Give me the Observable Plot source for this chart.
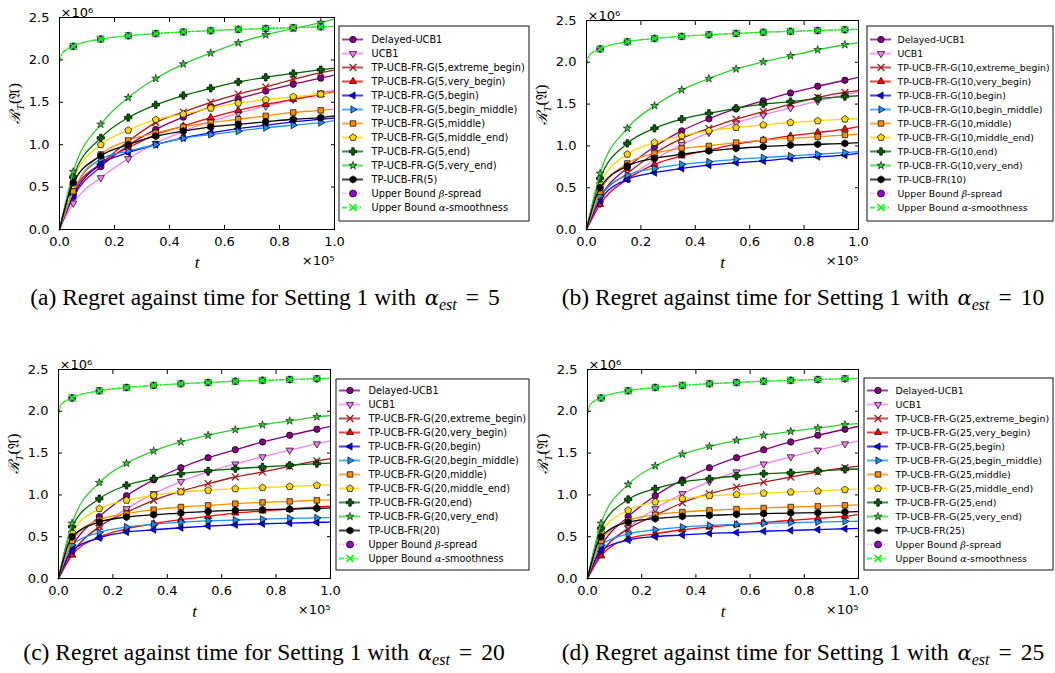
<!DOCTYPE html>
<html><head><meta charset="utf-8">
<script src="https://cdn.jsdelivr.net/npm/d3@7"></script>
<script src="https://cdn.jsdelivr.net/npm/@observablehq/plot@0.6"></script>
<style>
body{margin:0;background:#fff;}
#root{position:relative;width:1055px;height:673px;overflow:hidden;background:#fff;}
.cap{position:absolute;font-family:"Liberation Serif","Times New Roman",serif;font-size:23.5px;white-space:nowrap;transform:translate(-50%,-50%);color:#000;}
.cap .a{font-style:italic;font-family:"DejaVu Serif",serif;font-size:21px;margin-left:3px;}
.cap .sub{font-size:16px;position:relative;top:5px;font-style:italic;margin-right:9px;}
.cap .eq{margin-right:9px;}
</style></head><body><div id="root"></div>
<script>
// ---------------- data (t in units of 1e5, regret in units of 1e6) ----------------
const ALPHAS = [5, 10, 20, 25];
const LETTERS = ["a", "b", "c", "d"];
const T = [0, 0.05, 0.15, 0.25, 0.35, 0.45, 0.55, 0.65, 0.75, 0.85, 0.95, 1.0];
const MARKER_T = [0.05, 0.15, 0.25, 0.35, 0.45, 0.55, 0.65, 0.75, 0.85, 0.95];
const UB_T = [0, 0.01, 0.05, 0.15, 0.25, 0.35, 0.45, 0.55, 0.65, 0.75, 0.85, 0.95, 1.0];
const UB_BETA  = [1.97, 2.08, 2.16, 2.245, 2.285, 2.31, 2.33, 2.345, 2.36, 2.37, 2.38, 2.39, 2.395];
const UB_ALPHA = [1.97, 2.08, 2.16, 2.245, 2.285, 2.31, 2.33, 2.345, 2.36, 2.37, 2.38, 2.39, 2.395];
const DELAYED_UCB1 = [0, 0.38, 0.74, 0.99, 1.18, 1.325, 1.445, 1.54, 1.633, 1.713, 1.785, 1.82];
const UCB1 = [0, 0.31, 0.61, 0.835, 1.015, 1.16, 1.275, 1.37, 1.455, 1.535, 1.61, 1.645];
const VARIANTS = ["extreme_begin", "very_begin", "begin", "begin_middle", "middle", "middle_end", "end", "very_end"];
// rows: extreme_begin, very_begin, begin, begin_middle, middle, middle_end, end, very_end, TP-UCB-FR
const G_5 = [
  [0, 0.45, 0.77, 1.04, 1.26, 1.385, 1.50, 1.595, 1.68, 1.77, 1.85, 1.88],
  [0, 0.43, 0.78, 0.965, 1.12, 1.22, 1.32, 1.405, 1.475, 1.535, 1.59, 1.625],
  [0, 0.40, 0.77, 0.905, 1.0, 1.08, 1.14, 1.19, 1.23, 1.27, 1.30, 1.315],
  [0, 0.45, 0.83, 0.925, 1.0, 1.075, 1.12, 1.16, 1.20, 1.23, 1.26, 1.285],
  [0, 0.45, 0.885, 1.05, 1.14, 1.21, 1.26, 1.30, 1.34, 1.38, 1.405, 1.42],
  [0, 0.60, 1.0, 1.17, 1.295, 1.36, 1.43, 1.49, 1.53, 1.565, 1.595, 1.61],
  [0, 0.62, 1.08, 1.32, 1.47, 1.58, 1.665, 1.74, 1.795, 1.84, 1.885, 1.90],
  [0, 0.68, 1.24, 1.555, 1.78, 1.95, 2.08, 2.20, 2.295, 2.37, 2.44, 2.48],
  [0, 0.55, 0.87, 1.0, 1.10, 1.16, 1.21, 1.24, 1.27, 1.30, 1.32, 1.34]
];
const G_10 = [
  [0, 0.38, 0.67, 0.91, 1.09, 1.21, 1.32, 1.41, 1.50, 1.58, 1.64, 1.66],
  [0, 0.30, 0.60, 0.78, 0.88, 0.95, 1.02, 1.07, 1.12, 1.16, 1.20, 1.23],
  [0, 0.35, 0.60, 0.68, 0.73, 0.77, 0.80, 0.82, 0.85, 0.87, 0.89, 0.91],
  [0, 0.40, 0.65, 0.73, 0.78, 0.81, 0.84, 0.86, 0.88, 0.90, 0.92, 0.93],
  [0, 0.45, 0.79, 0.91, 0.97, 1.0, 1.04, 1.07, 1.09, 1.11, 1.13, 1.14],
  [0, 0.55, 0.90, 1.04, 1.12, 1.18, 1.22, 1.25, 1.28, 1.30, 1.32, 1.325],
  [0, 0.61, 1.03, 1.21, 1.32, 1.39, 1.45, 1.50, 1.53, 1.565, 1.59, 1.60],
  [0, 0.67, 1.21, 1.48, 1.67, 1.805, 1.92, 2.005, 2.077, 2.15, 2.21, 2.235],
  [0, 0.50, 0.76, 0.85, 0.90, 0.94, 0.97, 0.99, 1.01, 1.02, 1.03, 1.04]
];
const G_20 = [
  [0, 0.30, 0.62, 0.79, 0.935, 1.045, 1.134, 1.214, 1.274, 1.342, 1.406, 1.434],
  [0, 0.28, 0.495, 0.595, 0.655, 0.703, 0.743, 0.783, 0.807, 0.83, 0.855, 0.865],
  [0, 0.33, 0.487, 0.555, 0.583, 0.607, 0.627, 0.643, 0.655, 0.663, 0.671, 0.675],
  [0, 0.40, 0.55, 0.615, 0.65, 0.675, 0.69, 0.70, 0.71, 0.72, 0.725, 0.73],
  [0, 0.45, 0.703, 0.775, 0.823, 0.855, 0.875, 0.895, 0.91, 0.922, 0.935, 0.94],
  [0, 0.55, 0.835, 0.935, 0.995, 1.035, 1.055, 1.074, 1.086, 1.10, 1.114, 1.12],
  [0, 0.62, 0.955, 1.114, 1.194, 1.254, 1.286, 1.314, 1.334, 1.354, 1.374, 1.38],
  [0, 0.66, 1.146, 1.378, 1.525, 1.633, 1.713, 1.78, 1.837, 1.885, 1.933, 1.95],
  [0, 0.50, 0.675, 0.735, 0.763, 0.783, 0.803, 0.815, 0.823, 0.83, 0.839, 0.845]
];
const G_25 = [
  [0, 0.30, 0.595, 0.755, 0.906, 1.014, 1.094, 1.154, 1.214, 1.274, 1.326, 1.345],
  [0, 0.27, 0.475, 0.535, 0.583, 0.615, 0.643, 0.671, 0.695, 0.719, 0.745, 0.765],
  [0, 0.33, 0.46, 0.50, 0.52, 0.54, 0.55, 0.565, 0.575, 0.585, 0.595, 0.60],
  [0, 0.40, 0.535, 0.583, 0.615, 0.635, 0.647, 0.659, 0.667, 0.675, 0.683, 0.685],
  [0, 0.45, 0.695, 0.763, 0.795, 0.815, 0.83, 0.843, 0.855, 0.863, 0.875, 0.88],
  [0, 0.55, 0.815, 0.915, 0.955, 0.99, 1.005, 1.02, 1.034, 1.046, 1.062, 1.07],
  [0, 0.60, 0.946, 1.074, 1.154, 1.194, 1.226, 1.254, 1.266, 1.286, 1.306, 1.31],
  [0, 0.66, 1.126, 1.346, 1.486, 1.58, 1.653, 1.713, 1.76, 1.80, 1.84, 1.853],
  [0, 0.50, 0.675, 0.715, 0.743, 0.755, 0.767, 0.775, 0.783, 0.787, 0.795, 0.80]
];
const G_ALL = [G_5, G_10, G_20, G_25];
const X_TICKS = [0, 0.2, 0.4, 0.6, 0.8, 1.0];
const Y_TICKS = [0, 0.5, 1.0, 1.5, 2.0, 2.5];

// ---------------- marker shapes ----------------
function poly(pts) {
  return {draw(ctx, size) {
    const r = Math.sqrt(size / Math.PI);
    pts.forEach(([x, y], i) => i ? ctx.lineTo(x * r, y * r) : ctx.moveTo(x * r, y * r));
    ctx.closePath();
  }};
}
function tri(deg) {
  const k = 1.3;
  return poly([0, 120, 240].map(a => {
    const r = (a + deg) * Math.PI / 180;
    return [k * Math.sin(r), -k * Math.cos(r)];
  }));
}
const PENTAGON = poly([0, 72, 144, 216, 288].map(a => {
  const r = a * Math.PI / 180; return [1.15 * Math.sin(r), -1.15 * Math.cos(r)];
}));
const W = 0.4, E = 1.15;
const PLUS_FILLED = poly([[-W,-E],[W,-E],[W,-W],[E,-W],[E,W],[W,W],[W,E],[-W,E],[-W,W],[-E,W],[-E,-W],[-W,-W]]);

const STYLES = [
  {color: "#800080", symbol: "circle", fill: "#800080"},
  {color: "#ee82ee", symbol: tri(180), fill: "#ee82ee"},
  {color: "#a01c1c", symbol: "times", fill: "none", edge: "#a01c1c", edgeWidth: 1.3},
  {color: "#ff0000", symbol: tri(0), fill: "#ff0000"},
  {color: "#0000ff", symbol: tri(-90), fill: "#0000ff"},
  {color: "#1e90ff", symbol: tri(90), fill: "#1e90ff"},
  {color: "#ff8c00", symbol: "square", fill: "#ff8c00", r: 3.1},
  {color: "#ffd700", symbol: PENTAGON, fill: "#ffd700"},
  {color: "#006400", symbol: PLUS_FILLED, fill: "#006400"},
  {color: "#32cd32", symbol: "star", fill: "#32cd32", r: 2.5, edgeWidth: 0.6},
  {color: "#000000", symbol: "hexagon", fill: "#000000", r: 3.1},
  {color: "#ee82ee", symbol: "circle", fill: "#9400d3", dash: "1.2,2.2", r: 3.5},
  {color: "#00ff00", symbol: "times", fill: "none", edge: "#00ff00", edgeWidth: 1.5, dash: "5,2,1.5,2", r: 3.3}
];

// layout of each panel: plot frame + legend box [left, top, width, height, textX, fontSize]
const PANELS = [
  {svgLeft: 0,   svgTop: 0,   w: 340, h: 275, ml: 59, mr: 6, mt: 17, mb: 46, leg: [338, 25, 191, 196, 33, 9.8], cap: [265, 297]},
  {svgLeft: 527, svgTop: 0,   w: 336, h: 275, ml: 59, mr: 5, mt: 20, mb: 46, leg: [866, 25, 187, 196, 31, 9.35], cap: [803, 297]},
  {svgLeft: 0,   svgTop: 352, w: 335, h: 275, ml: 58, mr: 5, mt: 17, mb: 49, leg: [335, 378, 194, 192, 33, 9.7], cap: [264, 652]},
  {svgLeft: 527, svgTop: 352, w: 336, h: 275, ml: 60, mr: 5, mt: 17, mb: 49, leg: [863, 377, 190, 193, 32, 9.45], cap: [803, 652]}
];

const root = document.getElementById("root");
const FONT = {fontFamily: "DejaVu Sans", fontSize: "13px", color: "black", background: "transparent", overflow: "visible"};

function buildSeries(idx) {
  const a = ALPHAS[idx], G = G_ALL[idx];
  const s = [
    {label: "Delayed-UCB1", t: T, v: DELAYED_UCB1},
    {label: "UCB1", t: T, v: UCB1},
    ...VARIANTS.map((n, i) => ({label: `TP-UCB-FR-G(${a},${n})`, t: T, v: G[i]})),
    {label: `TP-UCB-FR(${a})`, t: T, v: G[8]},
    {label: "Upper Bound β-spread", t: UB_T, v: UB_BETA},
    {label: "Upper Bound α-smoothness", t: UB_T, v: UB_ALPHA}
  ];
  s.forEach((d, i) => d.st = STYLES[i]);
  return s;
}

function dotOpts(st, extra) {
  return {symbol: st.symbol, r: st.r ?? 3.2, fill: st.fill, stroke: st.edge ?? "#000", strokeWidth: st.edgeWidth ?? 0.7, ...extra};
}

PANELS.forEach((P, idx) => {
  const series = buildSeries(idx);
  const marks = [];
  series.forEach(s => {
    const rows = s.t.map((t, i) => ({t, v: s.v[i]}));
    const mrows = rows.filter(d => MARKER_T.includes(d.t));
    marks.push(Plot.line(rows, {x: "t", y: "v", stroke: s.st.color, strokeWidth: 1.3, strokeDasharray: s.st.dash, curve: "monotone-x"}));
    marks.push(Plot.dot(mrows, dotOpts(s.st, {x: "t", y: "v"})));
  });
  marks.push(
    Plot.frame({stroke: "#000", strokeWidth: 1}),
    Plot.axisX(X_TICKS, {anchor: "bottom", tickSize: -4, tickPadding: 11, tickFormat: d3.format(".1f"), label: null, fontSize: 13}),
    Plot.axisX(X_TICKS, {anchor: "top", tickSize: -4, tickFormat: () => "", label: null}),
    Plot.axisY(Y_TICKS, {anchor: "left", tickSize: -4, tickPadding: 14, tickFormat: d3.format(".1f"), label: null, fontSize: 13}),
    Plot.axisY(Y_TICKS, {anchor: "right", tickSize: -4, tickFormat: () => "", label: null}),
    Plot.text(["×10⁶"], {frameAnchor: "top-left", dx: 1, dy: -1, textAnchor: "start", lineAnchor: "bottom", fontSize: 13}),
    Plot.text(["×10⁵"], {frameAnchor: "bottom-right", dx: 0, dy: 31, textAnchor: "end", lineAnchor: "middle", fontSize: 13}),
    Plot.text(["t"], {frameAnchor: "bottom", dy: 33, lineAnchor: "middle", fontSize: 17, fontStyle: "italic", fontFamily: "Liberation Serif"}),
    Plot.text(["R"], {frameAnchor: "left", dx: -44, rotate: -90, lineAnchor: "middle", fontSize: 15, className: "ylab"})
  );
  const svg = Plot.plot({
    width: P.w, height: P.h,
    marginLeft: P.ml, marginRight: P.mr, marginTop: P.mt, marginBottom: P.mb,
    x: {domain: [0, 1], axis: null},
    y: {domain: [0, 2.5], axis: null},
    style: FONT,
    marks
  });
  // y-axis label with script R, subscript T and fraktur A
  const yl = svg.querySelector("g.ylab text");
  if (yl) {
    yl.textContent = "";
    const ns = "http://www.w3.org/2000/svg";
    const parts = [
      {s: "ℛ", attrs: {"font-family": "DejaVu Serif", "font-style": "italic"}},
      {s: "T", attrs: {"font-family": "Liberation Serif", "font-style": "italic", "font-size": 11, dy: 4}},
      {s: "(𝔄)", attrs: {"font-family": "DejaVu Serif", dy: -4}}
    ];
    parts.forEach(p => {
      const ts = document.createElementNS(ns, "tspan");
      for (const k in p.attrs) ts.setAttribute(k, p.attrs[k]);
      ts.textContent = p.s;
      yl.appendChild(ts);
    });
  }
  svg.style.position = "absolute";
  svg.style.left = P.svgLeft + "px";
  svg.style.top = P.svgTop + "px";
  root.appendChild(svg);

  // legend
  const [lx, ly, lw, lh, tx, fs] = P.leg;
  const names = series.map(s => s.label);
  const lmarks = [Plot.frame({fill: "white", stroke: "#111", strokeWidth: 1, inset: 0.5})];
  series.forEach(s => {
    lmarks.push(Plot.ruleY([s.label], {x1: 4, x2: 25, stroke: s.st.color, strokeWidth: 2, strokeOpacity: 0.75, strokeDasharray: s.st.dash}));
    lmarks.push(Plot.dot([s.label], dotOpts(s.st, {x: 14.5, y: d => d})));
  });
  lmarks.push(Plot.text(names, {x: tx, y: d => d, textAnchor: "start", fontSize: fs, fill: "#000"}));
  const leg = Plot.plot({
    width: lw, height: lh, margin: 0,
    x: {domain: [0, lw], range: [0, lw], axis: null},
    y: {type: "point", domain: names, padding: 0.65, axis: null},
    style: FONT,
    marks: lmarks
  });
  leg.querySelectorAll("text").forEach(t => {
    const m = t.textContent.match(/^(.*?)([αβ])(.*)$/);
    if (!m) return;
    t.textContent = "";
    const ns = "http://www.w3.org/2000/svg";
    [[m[1], null], [m[2], "g"], [m[3], null]].forEach(([s, g]) => {
      const ts = document.createElementNS(ns, "tspan");
      if (g) { ts.setAttribute("font-style", "italic"); ts.setAttribute("font-family", "DejaVu Serif"); }
      ts.textContent = s;
      t.appendChild(ts);
    });
  });
  leg.style.position = "absolute";
  leg.style.left = lx + "px";
  leg.style.top = ly + "px";
  root.appendChild(leg);

  // caption
  const cap = document.createElement("div");
  cap.className = "cap";
  cap.style.left = P.cap[0] + "px";
  cap.style.top = P.cap[1] + "px";
  cap.innerHTML = `(${LETTERS[idx]}) Regret against time for Setting 1 with <span class="a">α</span><span class="sub">est</span><span class="eq">=</span>${ALPHAS[idx]}`;
  root.appendChild(cap);
});
</script>
</body></html>
